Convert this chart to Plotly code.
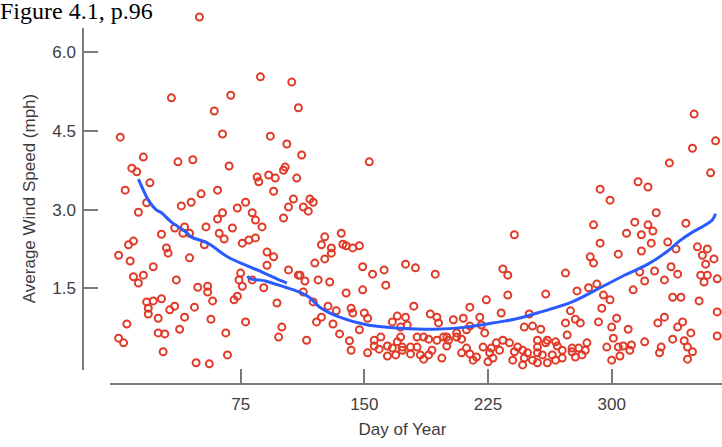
import plotly.graph_objects as go

# ---- data ----
day = [
    50, 87, 106, 33, 69, 110, 59, 2, 64, 93, 103, 112, 16, 37, 46, 68, 9, 12, 20, 85,
    86, 92, 96, 101, 102, 109, 5, 61, 95, 51,
    18, 13, 39, 45, 73, 78, 101, 104, 107, 64, 61, 82, 84, 88, 70, 54, 35, 41, 44, 40,
    27, 62, 65, 76, 80, 84, 53, 10, 7, 30, 31, 1, 8, 44, 22, 91, 95, 91, 104, 110,
    75, 74, 76, 82, 89, 10, 16, 13, 36, 49, 55, 55, 58, 71, 73, 18, 22, 27, 19, 19,
    25, 32, 35, 41, 47, 57, 78, 97, 6, 1, 4, 25, 29, 38, 66, 100, 98, 28, 67, 48, 56,
    153, 117, 119, 113, 116, 126, 136, 124, 130, 130, 137, 139, 143, 147, 120, 126, 149, 155, 162, 175,
    181, 193, 234, 114, 111, 122, 129, 139, 149, 163, 113, 119, 128, 133, 142, 143, 180, 224, 214, 220,
    233, 121, 124, 131, 150, 152, 147, 135, 115, 141, 142, 167, 170, 175, 176, 172, 190, 194, 195, 204,
    210, 214, 221, 212, 206, 200, 223, 156, 160, 156, 159, 164, 167, 170, 172, 173, 152, 164, 169, 173,
    178, 182, 186, 189, 182, 184, 186, 191, 189, 178, 194, 198, 201, 200, 197, 206, 209, 212, 209, 214,
    216, 218, 222, 226, 227, 230, 234, 232, 228, 225,
    350, 363, 349, 335, 360, 316, 322, 293, 299, 327, 289, 314, 322, 325, 309, 318, 345, 241,
    293, 287, 289, 304, 318, 324, 334, 339, 352, 358, 355, 362, 357, 237, 272, 260, 237, 279,
    286, 291, 295, 299, 294, 313, 317, 326, 320, 336, 340, 332, 354, 358, 356, 364, 337, 342,
    353, 364, 250, 247, 252, 257, 275, 272, 278, 281, 292, 303, 300, 310, 273, 332, 328, 343,
    340, 348, 301, 320, 337, 344, 346, 349, 330, 329, 364, 346, 297, 304, 307, 312, 305, 311,
    300, 238, 243, 241, 246, 249, 255, 255, 260, 261, 266, 267, 270, 264, 258, 255, 247, 252,
    240, 246, 255, 261, 266, 270, 276, 278, 282, 284, 285, 276, 280,
]
speed = [
    6.67, 5.53, 5.43, 5.13, 5.18, 4.94, 4.88, 4.38, 4.44, 4.40, 4.25, 4.04, 4.00, 3.91, 3.95, 3.83, 3.79, 3.72, 3.51, 3.62,
    3.53, 3.66, 3.60, 3.75, 3.81, 3.60, 3.37, 3.37, 3.35, 3.30,
    3.13, 2.95, 3.07, 3.14, 3.03, 3.14, 2.84, 3.05, 3.20, 2.94, 2.82, 2.94, 2.80, 2.67, 2.65, 2.67, 2.65, 2.67, 2.55, 2.55,
    2.53, 2.55, 2.44, 2.36, 2.42, 2.46, 2.33, 2.40, 2.33, 2.27, 2.17, 2.13, 2.02, 2.08, 1.91, 2.19, 2.10, 1.94, 1.85, 1.75,
    1.79, 1.66, 1.54, 1.66, 1.51, 1.72, 1.75, 1.60, 1.66, 1.52, 1.54, 1.43, 1.26, 1.28, 1.35, 1.24, 1.26, 1.30, 1.12, 1.01,
    0.93, 1.09, 1.16, 0.95, 1.14, 0.91, 0.86, 1.22, 0.82, 0.55, 0.46, 0.65, 0.63, 0.72, 0.65, 0.76, 0.57, 0.29, 0.23, 0.08, 0.06,
    3.91, 3.20, 3.14, 3.05, 2.97, 2.48, 2.55, 2.33, 2.27, 2.17, 2.34, 2.31, 2.27, 2.31, 1.98, 2.06, 1.91, 1.77, 1.85, 1.96,
    1.89, 1.77, 1.87, 1.64, 1.75, 1.66, 1.62, 1.41, 1.47, 1.56, 1.43, 1.24, 1.16, 1.07, 1.12, 1.03, 1.16, 1.28, 1.14, 0.95,
    1.03, 0.86, 0.95, 0.82, 1.03, 0.93, 0.71, 0.63, 0.51, 0.50, 0.32, 0.86, 0.97, 0.95, 0.80, 0.76, 1.01, 0.95, 0.84, 0.90,
    0.93, 0.78, 0.80, 0.71, 0.65, 0.57, 0.65, 0.51, 0.57, 0.40, 0.34, 0.40, 0.36, 0.48, 0.57, 0.38, 0.27, 0.21, 0.23, 0.32,
    0.38, 0.57, 0.57, 0.53, 0.38, 0.23, 0.15, 0.32, 0.23, 0.25, 0.51, 0.57, 0.51, 0.40, 0.17, 0.57, 0.53, 0.36, 0.27, 0.25,
    0.13, 0.19, 0.38, 0.27, 0.36, 0.46, 0.51, 0.32, 0.17, 0.10,
    4.82, 4.31, 4.17, 3.89, 3.70, 3.53, 3.43, 3.39, 3.18, 2.94, 2.71, 2.76, 2.71, 2.59, 2.55, 2.52, 2.74, 2.52,
    2.36, 2.10, 1.98, 2.15, 2.21, 2.36, 2.38, 2.25, 2.29, 2.25, 2.13, 2.06, 1.96, 1.75, 1.79, 1.39, 1.37, 1.45,
    1.51, 1.58, 1.37, 1.28, 1.12, 1.47, 1.81, 1.83, 1.64, 1.91, 1.77, 1.66, 1.75, 1.75, 1.62, 1.68, 1.33, 1.33,
    1.26, 1.05, 1.01, 0.76, 0.78, 0.72, 1.07, 0.84, 0.91, 0.84, 0.86, 0.93, 0.76, 0.72, 0.61, 0.95, 0.84, 0.86,
    0.76, 0.65, 0.55, 0.48, 0.53, 0.50, 0.38, 0.29, 0.38, 0.27, 0.59, 0.15, 0.38, 0.38, 0.40, 0.42, 0.21, 0.32,
    0.13, 0.46, 0.38, 0.29, 0.32, 0.27, 0.51, 0.38, 0.46, 0.51, 0.48, 0.40, 0.32, 0.23, 0.23, 0.27, 0.17, 0.13,
    0.13, 0.04, 0.08, 0.08, 0.13, 0.17, 0.29, 0.19, 0.23, 0.32, 0.46, 0.36, 0.36,
]

# hand-drawn blue strokes (two strokes)
stroke1_day = [13, 16, 19, 24, 27, 33, 42, 45, 55, 67, 78, 88, 100, 103]
stroke1_speed = [3.58, 3.37, 3.18, 2.99, 2.94, 2.76, 2.57, 2.48, 2.36, 2.10, 1.94, 1.81, 1.64, 1.60]
stroke2_day = [79, 81, 86, 90, 102, 112, 117, 123, 135, 152, 172, 192, 212, 232, 241, 255, 276, 293,
               306, 322, 334, 341, 349, 357, 361, 363]
stroke2_speed = [1.73, 1.68, 1.66, 1.64, 1.52, 1.41, 1.32, 1.14, 0.95, 0.80, 0.74, 0.72, 0.76, 0.86, 0.91,
                 1.03, 1.24, 1.51, 1.72, 1.96, 2.21, 2.40, 2.57, 2.71, 2.80, 2.92]

x_ticks = [75, 150, 225, 300]
y_ticks = [1.5, 3.0, 4.5, 6.0]

title_text = "Figure 4.1, p.96"
x_title = "Day of Year"
y_title = "Average Wind Speed (mph)"

RED = "#e03b28"
BLUE = "#2a5bff"
GREY = "#7a7a7a"
TXT = "#3d3d3d"
FONT = "Liberation Sans Narrow, Arial Narrow, Liberation Sans, Arial, sans-serif"

fig = go.Figure()
fig.add_trace(go.Scatter(
    x=day, y=speed, mode="markers", cliponaxis=False,
    marker=dict(symbol="circle-open", size=7, color=RED, line=dict(width=2, color=RED)),
    hoverinfo="skip", showlegend=False,
))
fig.add_trace(go.Scatter(x=stroke1_day, y=stroke1_speed, mode="lines",
                         line=dict(color=BLUE, width=3, shape="spline"), showlegend=False))
fig.add_trace(go.Scatter(x=stroke2_day, y=stroke2_speed, mode="lines",
                         line=dict(color=BLUE, width=3, shape="spline"), showlegend=False))

W, H = 722, 447
ML, MR, MT, MB = 83, 0, 13, 63
pw, ph = W - ML - MR, H - MT - MB
# vertical scale: 52.47 px per mph, zero at y-pixel 367 (bottom of plot at 384)
y_lo = (367 - 384) / 52.47
y_hi = (367 - MT) / 52.47

fig.update_layout(
    width=W, height=H,
    margin=dict(l=ML, r=MR, t=MT, b=MB, pad=0),
    paper_bgcolor="white", plot_bgcolor="white",
    font=dict(family=FONT, size=17, color=TXT),
    title=dict(text=title_text, x=0.0, xref="container", xanchor="left",
               y=0.995, yref="container", yanchor="top", pad=dict(t=0, l=0, r=0, b=0),
               font=dict(family="Liberation Serif, Times New Roman, serif", size=24, color="black")),
    xaxis=dict(
        range=[-20.6, 366.9], tickvals=x_ticks, ticks="inside", ticklen=15, tickwidth=2,
        tickcolor=GREY, showline=False, showgrid=False, zeroline=False,
        tickfont=dict(size=17, color=TXT), ticklabelstandoff=8,
        title=dict(text=x_title, font=dict(size=17, color=TXT), standoff=10),
    ),
    yaxis=dict(
        range=[y_lo, y_hi], tickvals=y_ticks, tickformat=".1f", ticks="inside", ticklen=15,
        tickwidth=2, tickcolor=GREY, showline=False, showgrid=False, zeroline=False,
        tickfont=dict(size=17, color=TXT), ticklabelstandoff=6,
        title=dict(text=y_title, font=dict(size=17, color=TXT), standoff=12),
    ),
    shapes=[
        dict(type="line", xref="paper", yref="paper", x0=0, x1=0, layer="below",
             y0=(384 - 370) / ph, y1=(384 - 28) / ph, line=dict(color=GREY, width=2)),
        dict(type="line", xref="paper", yref="paper", x0=(110 - ML) / pw, x1=1, layer="below",
             y0=0, y1=0, line=dict(color=GREY, width=2)),
    ],
)

fig.write_html("out.html")
